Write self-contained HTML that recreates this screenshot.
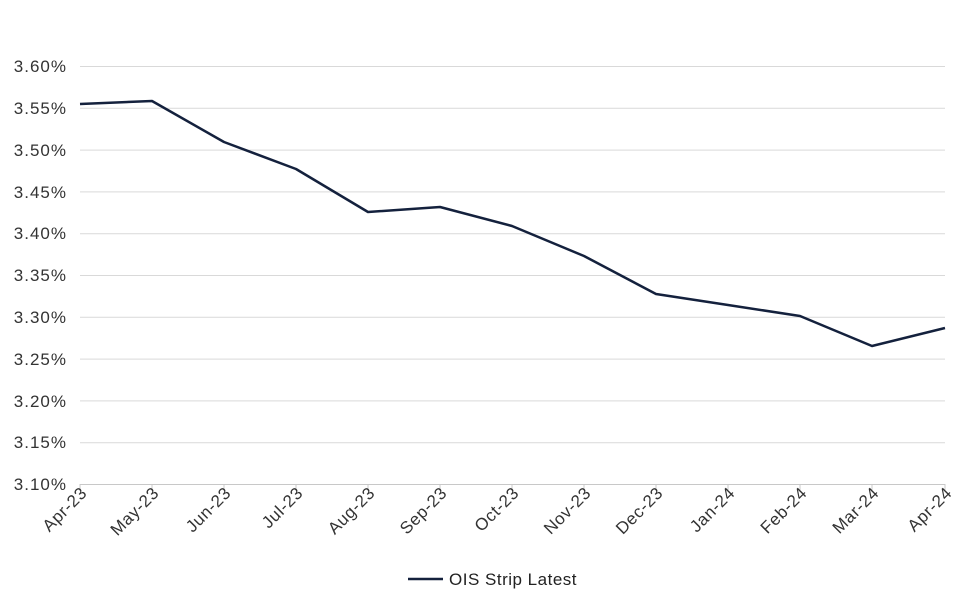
<!DOCTYPE html>
<html><head><meta charset="utf-8"><style>
html,body{margin:0;padding:0;background:#fff;}
svg{display:block;font-family:"Liberation Sans",Arial,sans-serif;}
</style></head><body>
<svg width="980" height="607" viewBox="0 0 980 607">
<g stroke="#d9d9d9" stroke-width="1">
<line x1="80" x2="945" y1="66.5" y2="66.5"/>
<line x1="80" x2="945" y1="108.3" y2="108.3"/>
<line x1="80" x2="945" y1="150.1" y2="150.1"/>
<line x1="80" x2="945" y1="191.9" y2="191.9"/>
<line x1="80" x2="945" y1="233.7" y2="233.7"/>
<line x1="80" x2="945" y1="275.5" y2="275.5"/>
<line x1="80" x2="945" y1="317.3" y2="317.3"/>
<line x1="80" x2="945" y1="359.1" y2="359.1"/>
<line x1="80" x2="945" y1="400.9" y2="400.9"/>
<line x1="80" x2="945" y1="442.7" y2="442.7"/>
<line x1="80" x2="945" y1="484.5" y2="484.5" stroke="#c8c8c8"/>
</g>
<g stroke="#c8c8c8">
<line x1="80" x2="80" y1="484" y2="490"/><line x1="152" x2="152" y1="484" y2="490"/><line x1="224" x2="224" y1="484" y2="490"/><line x1="296" x2="296" y1="484" y2="490"/><line x1="368" x2="368" y1="484" y2="490"/><line x1="440" x2="440" y1="484" y2="490"/><line x1="512" x2="512" y1="484" y2="490"/><line x1="584" x2="584" y1="484" y2="490"/><line x1="656" x2="656" y1="484" y2="490"/><line x1="728" x2="728" y1="484" y2="490"/><line x1="800" x2="800" y1="484" y2="490"/><line x1="872" x2="872" y1="484" y2="490"/><line x1="945" x2="945" y1="484" y2="490"/>
</g>
<g font-size="17" fill="#333" text-anchor="end" letter-spacing="1">
<text x="67" y="72">3.60%</text><text x="67" y="114">3.55%</text><text x="67" y="156">3.50%</text><text x="67" y="198">3.45%</text><text x="67" y="239">3.40%</text><text x="67" y="281">3.35%</text><text x="67" y="323">3.30%</text><text x="67" y="365">3.25%</text><text x="67" y="407">3.20%</text><text x="67" y="448">3.15%</text><text x="67" y="490">3.10%</text>
</g>
<g font-size="17" fill="#333" text-anchor="end" letter-spacing="0.6">
<text transform="translate(88,494) rotate(-45)">Apr-23</text>
<text transform="translate(160,494) rotate(-45)">May-23</text>
<text transform="translate(232,494) rotate(-45)">Jun-23</text>
<text transform="translate(304,494) rotate(-45)">Jul-23</text>
<text transform="translate(376,494) rotate(-45)">Aug-23</text>
<text transform="translate(448,494) rotate(-45)">Sep-23</text>
<text transform="translate(520,494) rotate(-45)">Oct-23</text>
<text transform="translate(592,494) rotate(-45)">Nov-23</text>
<text transform="translate(664,494) rotate(-45)">Dec-23</text>
<text transform="translate(736,494) rotate(-45)">Jan-24</text>
<text transform="translate(808,494) rotate(-45)">Feb-24</text>
<text transform="translate(880,494) rotate(-45)">Mar-24</text>
<text transform="translate(953,494) rotate(-45)">Apr-24</text>
</g>
<polyline fill="none" stroke="#14213d" stroke-width="2.5" stroke-linejoin="round" points="80,104 152,101 224,142 296,169 368,212 440,207 512,226 584,256 656,294 728,305 800,316 872,346 945,328"/>
<line x1="408" x2="443" y1="579" y2="579" stroke="#14213d" stroke-width="2.5"/>
<text x="449" y="585" font-size="17" fill="#222" letter-spacing="0.5">OIS Strip Latest</text>
</svg>
</body></html>
